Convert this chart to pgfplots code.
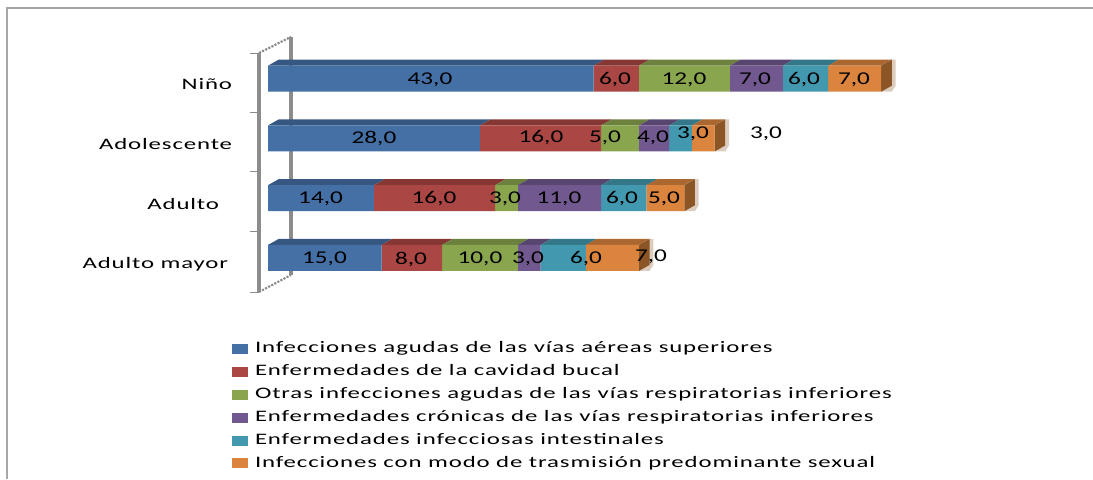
\documentclass[border=0pt]{standalone}
\usepackage{fontspec}
\usepackage{pgfplots}
\pgfplotsset{compat=1.18}
\newfontfamily\calib[FakeStretch=1.4]{Carlito}
\newfontfamily\calibw[FakeStretch=1.55,LetterSpace=5.5]{Carlito}

\definecolor{cA}{HTML}{4470A6}
\definecolor{cB}{HTML}{AA4643}
\definecolor{cC}{HTML}{89A54E}
\definecolor{cD}{HTML}{71588F}
\definecolor{cE}{HTML}{4198AF}
\definecolor{cF}{HTML}{DB843D}
\definecolor{wall}{HTML}{8C8C8C}
\definecolor{sideface}{HTML}{8B5526}

% one px of the reference is .75pt
\pgfplotsset{
  frame3d/.style={
    at={(194.25pt,-219pt)}, anchor=south west,
    scale only axis, width=480.75pt, height=179.25pt,
    xmin=-1.189, xmax=83.49, ymin=-0.57, ymax=3.43,
    clip=false,
  },
}

% top face of a segment: colour, from, to, bar centre
\newcommand\topface[4]{%
  \pgfmathsetmacro\xa{#2+1.4}\pgfmathsetmacro\xb{#3+1.4}%
  \pgfmathsetmacro\ya{#4+0.218}\pgfmathsetmacro\yb{#4+0.318}%
  \addplot[draw=none,fill=#1!78!black] coordinates {(#2,\ya) (#3,\ya) (\xb,\yb) (\xa,\yb)} --cycle;
}
% side face of a bar: end of the bar, bar centre
\newcommand\sideface[2]{%
  \pgfmathsetmacro\xb{#1+1.4}\pgfmathsetmacro\xc{#1+1.9}%
  \pgfmathsetmacro\ya{#2+0.218}\pgfmathsetmacro\yb{#2+0.318}%
  \pgfmathsetmacro\yc{#2-0.218}\pgfmathsetmacro\yd{#2-0.118}%
  \addplot[draw=none,fill=sideface!30] coordinates {(#1,\ya) (\xb,\yb) (\xc,\yb) (\xc,\yd) (\xb,\yc) (#1,\yc)} --cycle;
  \addplot[draw=none,fill=sideface] coordinates {(#1,\ya) (\xb,\yb) (\xb,\yd) (#1,\yc)} --cycle;
}
% short tick left of the front wall line
\newcommand\walltick[1]{\addplot[wall,line width=.7pt] coordinates {(-2.38,#1) (-1.189,#1)};}

\begin{document}
\begin{tikzpicture}[x=0.75pt,y=-0.75pt]
\path[use as bounding box] (0,0) rectangle (1093,479);
\draw[color=black!35,line width=1.1pt] (7,479) -- (7,8) -- (1093,8);

% --- wall, ticks, top and end faces
\begin{axis}[
  frame3d,
  axis x line=none,
  axis y line*=left,
  y axis line style={wall,line width=2.4pt},
  ytick={-0.101,0.903,1.907,2.911},
  yticklabels={\hbox{Adulto mayor\kern3pt},\hbox{Adulto\kern9.75pt},Adolescente,Niño},
  ticklabel style={font=\calibw\fontsize{12}{14}\selectfont},
  major tick length=0pt,
  yticklabel style={inner sep=0pt,xshift=-20pt},
]
\walltick{-0.57}\walltick{0.45}\walltick{1.44}\walltick{2.43}\walltick{3.43}
\addplot[wall,line width=2.4pt] coordinates {(3.04,-0.285) (3.04,3.70)};
\addplot[wall,line width=1.6pt,densely dotted] coordinates {(-1.189,3.43) (3.04,3.70)};
\addplot[wall,line width=1.6pt,densely dotted] coordinates {(-1.189,-0.57) (3.04,-0.285)};
\topface{cA}{0}{43}{3}\topface{cB}{43}{49}{3}\topface{cC}{49}{61}{3}
\topface{cD}{61}{68}{3}\topface{cE}{68}{74}{3}\topface{cF}{74}{81}{3}
\topface{cA}{0}{28}{2}\topface{cB}{28}{44}{2}\topface{cC}{44}{49}{2}
\topface{cD}{49}{53}{2}\topface{cE}{53}{56}{2}\topface{cF}{56}{59}{2}
\topface{cA}{0}{14}{1}\topface{cB}{14}{30}{1}\topface{cC}{30}{33}{1}
\topface{cD}{33}{44}{1}\topface{cE}{44}{50}{1}\topface{cF}{50}{55}{1}
\topface{cA}{0}{15}{0}\topface{cB}{15}{23}{0}\topface{cC}{23}{33}{0}
\topface{cD}{33}{36}{0}\topface{cE}{36}{42}{0}\topface{cF}{42}{49}{0}
\sideface{81}{3}
\sideface{59}{2}
\sideface{55}{1}
\sideface{49}{0}
\end{axis}

% --- front of the bars and the legend
\begin{axis}[
  frame3d,
  hide axis,
  xbar stacked,
  bar width=19.5pt,
  legend cell align=left,
  legend image code/.code={\fill[#1] (0pt,-3.75pt) rectangle (12pt,3.75pt);},
  legend style={
    at={(-0.042,-0.203)},anchor=north west,
    draw=none,fill=none,inner sep=0pt,row sep=5.2pt,column sep=5pt,
    font=\calibw\fontsize{12}{14}\selectfont,
    nodes={inner sep=0pt,text height=9pt,text depth=3pt},
  },
]
\addplot[draw=none,fill=cA] coordinates {(15,0) (14,1) (28,2) (43,3)};
\addlegendentry{Infecciones agudas de las vías aéreas superiores}
\addplot[draw=none,fill=cB] coordinates {(8,0) (16,1) (16,2) (6,3)};
\addlegendentry{Enfermedades de la cavidad bucal}
\addplot[draw=none,fill=cC] coordinates {(10,0) (3,1) (5,2) (12,3)};
\addlegendentry{Otras infecciones agudas de las vías respiratorias inferiores}
\addplot[draw=none,fill=cD] coordinates {(3,0) (11,1) (4,2) (7,3)};
\addlegendentry{Enfermedades crónicas de las vías respiratorias inferiores}
\addplot[draw=none,fill=cE] coordinates {(6,0) (6,1) (3,2) (6,3)};
\addlegendentry{Enfermedades infecciosas intestinales}
\addplot[draw=none,fill=cF] coordinates {(7,0) (5,1) (3,2) (7,3)};
\addlegendentry{Infecciones con modo de trasmisión predominante sexual}
\end{axis}

% --- value labels, placed where the reference has them
\begin{axis}[
  frame3d,
  hide axis,
  nodes near coords,
  every node near coord/.append style={anchor=center,inner sep=0pt,font=\calib\fontsize{13.5}{15}\selectfont},
]
\addplot[only marks,mark=none,point meta=explicit symbolic] table[x=x,y=y,meta=t] {
x y t
21.40 2.978 43,0
45.84 2.978 6,0
54.95 2.978 12,0
64.33 2.978 7,0
70.80 2.978 6,0
77.41 2.978 7,0
14.00 2.007 28,0
36.06 2.007 16,0
44.52 2.007 5,0
50.86 2.007 4,0
56.14 2.074 3,0
65.79 2.074 3,0
6.94 0.986 14,0
21.93 0.986 16,0
31.31 0.986 3,0
38.44 0.986 11,0
46.76 0.986 6,0
52.31 0.986 5,0
7.46 -0.018 15,0
18.89 -0.018 8,0
28.00 -0.018 10,0
34.35 -0.018 3,0
42.00 -0.018 6,0
50.60 0.016 7,0
};
\end{axis}
\end{tikzpicture}
\end{document}
